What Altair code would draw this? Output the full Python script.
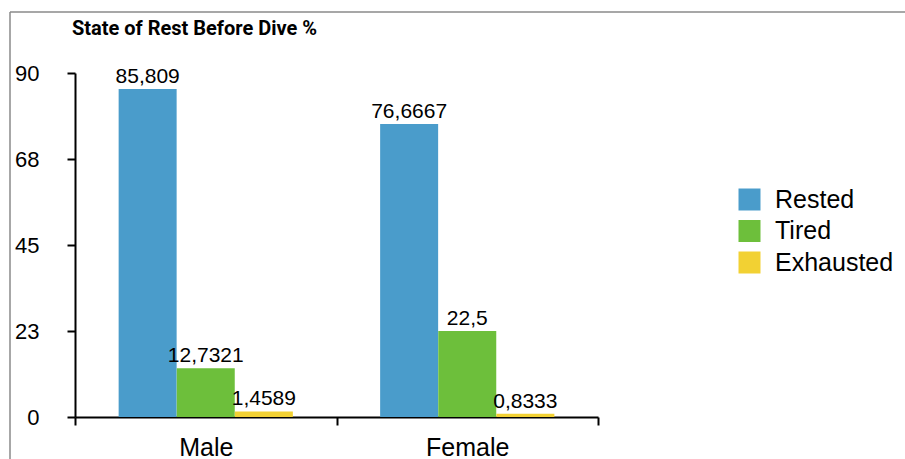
import altair as alt
import pandas as pd

genders = ["Male", "Female"]
states = ["Rested", "Tired", "Exhausted"]
male_values = [85.809, 12.7321, 1.4589]
female_values = [76.6667, 22.5, 0.8333]
colors = ["#4A9CCB", "#6DBF3B", "#F2D133"]
y_ticks = [0, 22.5, 45, 67.5, 90]

rows = []
for g, vals in zip(genders, [male_values, female_values]):
    for s, v in zip(states, vals):
        rows.append({"gender": g, "state": s, "value": v,
                     "label": f"{v:g}".replace(".", ",")})
df = pd.DataFrame(rows)

W, H = 523, 344
PAD_L, PAD_T = 75, 73

x = alt.X("gender:N", sort=genders,
          scale=alt.Scale(paddingInner=0, paddingOuter=0),
          axis=alt.Axis(title=None, labelAngle=0, tickBand="extent",
                        labelFontSize=25, labelFont="Liberation Sans",
                        labelColor="black", domainColor="black", domainWidth=2,
                        tickColor="black", tickWidth=2, tickSize=8,
                        labelPadding=10, grid=False))
xo = alt.XOffset("state:N", sort=states,
                 scale=alt.Scale(paddingInner=0, paddingOuter=0.75))
y = alt.Y("value:Q", scale=alt.Scale(domain=[0, 90], nice=False),
          axis=alt.Axis(title=None, values=y_ticks, labelExpr="round(datum.value)",
                        labelFontSize=22, labelFont="Liberation Sans",
                        labelColor="black", domainColor="black", domainWidth=2,
                        tickColor="black", tickWidth=2, tickSize=8,
                        labelPadding=28, grid=False))
color = alt.Color("state:N", sort=states,
                  scale=alt.Scale(domain=states, range=colors),
                  legend=alt.Legend(title=None, orient="none", legendX=662, legendY=114,
                                    symbolType="square", symbolSize=484,
                                    symbolStrokeWidth=0, labelFontSize=25,
                                    labelFont="Liberation Sans", labelColor="black",
                                    labelOffset=13, rowPadding=5.5, padding=0))

bars = alt.Chart(df).mark_bar(size=58).encode(x=x, xOffset=xo, y=y, color=color)
labels = alt.Chart(df).mark_text(baseline="alphabetic", dy=-6, fontSize=21,
                                 font="Liberation Sans", color="black").encode(
    x=x, xOffset=xo, y=y, text="label:N")

frame = alt.Chart(alt.Data(values=[{}]))
top_line = frame.mark_rule(color="#8a8a8a", strokeWidth=1.5, clip=False).encode(
    x=alt.value(-65), x2=alt.value(905), y=alt.value(-61))
left_line = frame.mark_rule(color="#8a8a8a", strokeWidth=1.5, clip=False).encode(
    x=alt.value(-65), y=alt.value(-61), y2=alt.value(459))

chart = alt.layer(top_line, left_line, bars, labels).properties(
    width=W, height=H,
    title=alt.TitleParams("State of Rest Before Dive %", anchor="middle", frame="group",
                          dx=-142, offset=-28, font="Roboto",
                          fontWeight="bold", fontSize=20, color="black"),
    autosize=alt.AutoSizeParams(type="none"),
    padding={"left": PAD_L, "top": PAD_T, "right": 905 - PAD_L - W, "bottom": 459 - PAD_T - H},
).configure_view(stroke=None)

chart.save("out.html", embed_options={"renderer": "svg", "actions": False})
